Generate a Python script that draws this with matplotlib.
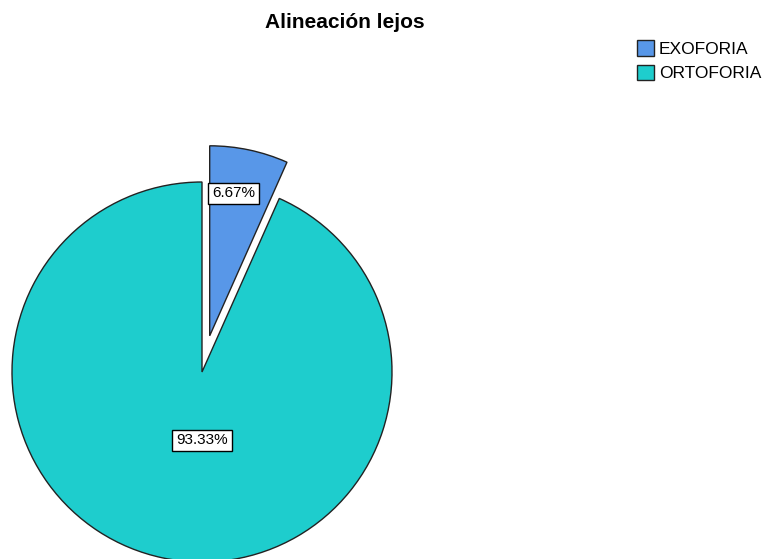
import numpy as np
import matplotlib.pyplot as plt

categories = ['EXOFORIA', 'ORTOFORIA']
counts = [1, 14]
colors = ['#5897E8', '#1ECDCD']
title = 'Alineación lejos'

plt.rcParams['font.family'] = ['Liberation Sans', 'DejaVu Sans']

W, H = 764, 559
fig = plt.figure(figsize=(W / 100, H / 100), dpi=100)
ax = fig.add_axes([0, 0, 1, 1])

# pie placed in pixel units so it can be cut by the lower edge like the original
cx, cy, r = 202, 187, 190
wedges, texts, autotexts = ax.pie(
    counts, colors=colors, startangle=90, counterclock=False,
    explode=[37, 0], center=(cx, cy), radius=r,   # explode is in data units here
    autopct='%1.2f%%', pctdistance=0.76,
    wedgeprops=dict(edgecolor='#222222', linewidth=1),
    textprops=dict(fontsize=11))

# label placement as in the original (angle in degrees, fraction of radius)
label_pos = [(80.5, 0.76), (270, 0.36)]
for w, t, (ang, d) in zip(wedges, autotexts, label_pos):
    wx, wy = w.center
    t.set_position((wx + d * r * np.cos(np.radians(ang)), wy + d * r * np.sin(np.radians(ang))))
    t.set_bbox(dict(boxstyle='square,pad=0.25', facecolor='white', edgecolor='black', linewidth=1))

ax.set_xlim(0, W)
ax.set_ylim(0, H)
ax.set_aspect('equal')
ax.axis('off')

fig.text(345 / W, 1 - 22 / H, title, ha='center', va='center', fontsize=15, fontweight='bold')

ax.legend(wedges, categories, loc='upper left', bbox_to_anchor=(637 / W, 1 - 40 / H),
          bbox_transform=fig.transFigure, frameon=False, fontsize=12.5,
          handlelength=1.0, handleheight=1.0, handletextpad=0.25, labelspacing=0.45,
          borderpad=0, borderaxespad=0)

fig.savefig('out.png', dpi=100)
